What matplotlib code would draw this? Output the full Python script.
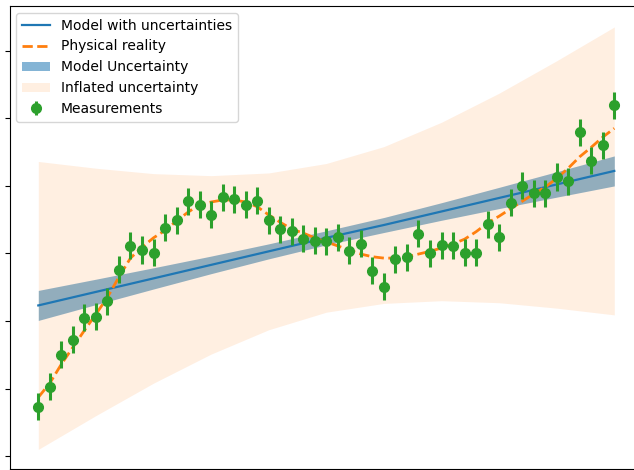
import numpy as np
import matplotlib
matplotlib.use("Agg")
import matplotlib.pyplot as plt

# measured values with their error bars (51 evenly spaced samples)
meas_y = [-2.27, -1.97, -1.50, -1.28, -0.95, -0.94, -0.71, -0.24, 0.11, 0.05,
          0.01, 0.38, 0.49, 0.77, 0.72, 0.57, 0.83, 0.80, 0.72, 0.78,
          0.49, 0.36, 0.33, 0.22, 0.19, 0.18, 0.24, 0.04, 0.14, -0.26,
          -0.49, -0.09, -0.06, 0.29, 0.00, 0.12, 0.11, 0.01, 0.01, 0.43,
          0.24, 0.75, 1.00, 0.89, 0.89, 1.13, 1.07, 1.79, 1.37, 1.60,
          2.19]
meas_err = 0.2

# the true underlying signal at the same sample positions
truth_y = [-2.13, -1.92, -1.64, -1.39, -1.14, -0.90, -0.65, -0.35, -0.07, 0.09,
           0.23, 0.34, 0.48, 0.61, 0.72, 0.76, 0.79, 0.79, 0.76, 0.69,
           0.57, 0.46, 0.36, 0.30, 0.23, 0.17, 0.11, 0.05, -0.01, -0.05,
           -0.07, -0.07, -0.05, -0.01, 0.03, 0.08, 0.14, 0.21, 0.32, 0.45,
           0.55, 0.66, 0.77, 0.88, 0.98, 1.11, 1.26, 1.43, 1.57, 1.72,
           1.85]

# linear model and its uncertainty, every 5th sample
band_x = [0, 5, 10, 15, 20, 25, 30, 35, 40, 45, 50]
model_y = [-0.77, -0.57, -0.37, -0.17, 0.03, 0.23, 0.42, 0.62, 0.82, 1.02, 1.22]
model_hw = [0.222, 0.188, 0.157, 0.130, 0.111, 0.104, 0.111, 0.130, 0.157, 0.188, 0.222]
inflated_hw = [2.13, 1.83, 1.55, 1.32, 1.16, 1.10, 1.16, 1.32, 1.55, 1.83, 2.13]

x = np.arange(len(meas_y))
bx = np.array(band_x)
my = np.array(model_y)
mh = np.array(model_hw)
ih = np.array(inflated_hw)

fig = plt.figure(figsize=(6.34, 4.70), dpi=100)
ax = fig.add_axes([9.5 / 634, 1 / 470, 633.6 / 634, 463 / 470])

# blue band first, the pale inflated band goes over it
unc = ax.fill_between(bx, my - mh, my + mh, color='tab:blue', alpha=0.55,
                      linewidth=0, label='Model Uncertainty')
infl = ax.fill_between(bx, my - ih, my + ih, color='tab:orange', alpha=0.12,
                       linewidth=0, label='Inflated uncertainty')
model, = ax.plot(bx, my, color='tab:blue', lw=1.6, label='Model with uncertainties')
truth, = ax.plot(x, truth_y, '--', color='tab:orange', lw=2, label='Physical reality')
meas = ax.errorbar(x, meas_y, yerr=meas_err, fmt='o', color='tab:green',
                   ms=7, elinewidth=2.2, label='Measurements', zorder=3)

ax.set_xlim(-2.5, 52.5)
ax.set_ylim(-3.19, 3.66)
ax.set_yticks([-3, -2, -1, 0, 1, 2, 3])
ax.tick_params(labelleft=False, labelbottom=False)

ax.legend([model, truth, unc, infl, meas],
          ['Model with uncertainties', 'Physical reality', 'Model Uncertainty',
           'Inflated uncertainty', 'Measurements'],
          loc='upper left', fontsize=10)

fig.savefig('out.png', dpi=100)
